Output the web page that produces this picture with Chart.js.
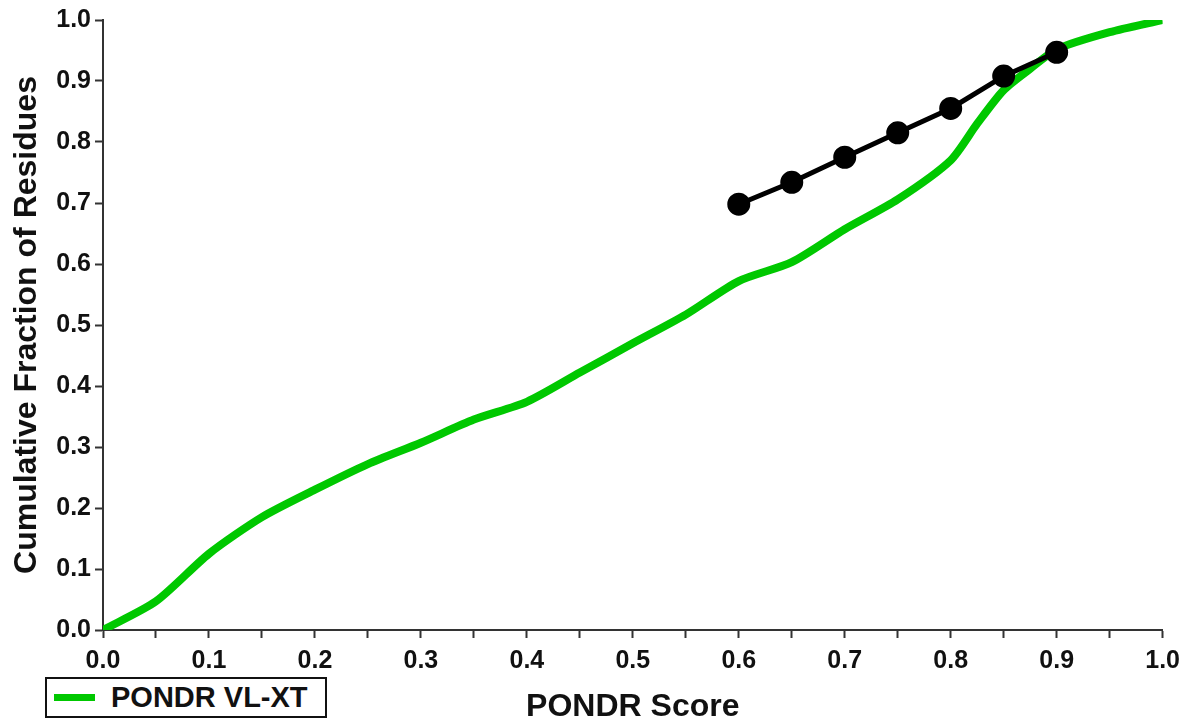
<!DOCTYPE html>
<html lang="en">
<head>
    <meta charset="UTF-8">
    <title>PONDR Score Cumulative Fraction</title>
    <style>
        body {
            margin: 0;
            padding: 0;
            background-color: #ffffff;
            font-family: "Liberation Sans", Arial, sans-serif;
        }

        .wrap {
            position: relative;
            width: 1188px;
            height: 721px;
        }

        /* Legend box in the lower left corner */
        .legend {
            position: absolute;
            left: 45px;
            top: 677px;
            width: 278px;
            height: 37px;
            border: 2px solid #111;
            background: #ffffff;
            display: flex;
            align-items: center;
        }

        .legend .swatch {
            width: 41px;
            height: 7px;
            margin-left: 7px;
            margin-right: 16px;
        }

        .legend .label {
            font-weight: bold;
            font-size: 29px;
            color: #111;
            line-height: 1;
        }
    </style>
</head>
<body>
    <div class="wrap">
        <canvas id="chart" width="1188" height="721"></canvas>
        <div class="legend">
            <div class="swatch" id="legendSwatch"></div>
            <div class="label" id="legendLabel"></div>
        </div>
    </div>

    <script src="https://cdn.jsdelivr.net/npm/chart.js"></script>
    <script>
        // PONDR VL-XT cumulative distribution
        const vlxtScore = [0.0, 0.05, 0.1, 0.15, 0.2, 0.25, 0.3, 0.35, 0.4, 0.45, 0.5, 0.55, 0.6, 0.65, 0.7, 0.75, 0.8, 0.825, 0.85, 0.875, 0.9, 0.95, 1.0];
        const vlxtFraction = [0.0, 0.047, 0.125, 0.185, 0.23, 0.272, 0.307, 0.345, 0.374, 0.422, 0.47, 0.517, 0.572, 0.603, 0.657, 0.706, 0.77, 0.83, 0.885, 0.92, 0.952, 0.98, 1.0];

        // black reference series
        const refScore = [0.6, 0.65, 0.7, 0.75, 0.8, 0.85, 0.9];
        const refFraction = [0.698, 0.734, 0.775, 0.815, 0.855, 0.908, 0.947];

        const xTicks = [0.0, 0.1, 0.2, 0.3, 0.4, 0.5, 0.6, 0.7, 0.8, 0.9, 1.0];
        const yTicks = [0.0, 0.1, 0.2, 0.3, 0.4, 0.5, 0.6, 0.7, 0.8, 0.9, 1.0];

        const green = 'rgb(0, 200, 0)';
        const ink = '#111111';

        function toPoints(xs, ys) {
            return xs.map((x, i) => ({ x: x, y: ys[i] }));
        }

        document.getElementById('legendSwatch').style.background = green;
        document.getElementById('legendLabel').textContent = 'PONDR VL-XT';

        const tickFont = { family: '"Liberation Sans", Arial, sans-serif', size: 25, weight: 'bold' };
        const titleFont = { family: '"Liberation Sans", Arial, sans-serif', size: 32, weight: 'bold' };

        const ctx = document.getElementById('chart').getContext('2d');
        const chart = new Chart(ctx, {
            type: 'line',
            data: {
                datasets: [
                    {
                        label: 'PONDR VL-XT',
                        data: toPoints(vlxtScore, vlxtFraction),
                        borderColor: green,
                        backgroundColor: green,
                        borderWidth: 8,
                        pointRadius: 0,
                        tension: 0.25,
                        order: 2
                    },
                    {
                        label: 'Reference',
                        data: toPoints(refScore, refFraction),
                        borderColor: '#000000',
                        backgroundColor: '#000000',
                        borderWidth: 5,
                        pointRadius: 9,
                        pointHoverRadius: 9,
                        order: 1
                    }
                ]
            },
            options: {
                responsive: false,
                animation: false,
                layout: {
                    padding: { top: 20, right: 25, left: 0, bottom: 0 }
                },
                plugins: {
                    legend: { display: false },
                    tooltip: { enabled: false }
                },
                scales: {
                    x: {
                        type: 'linear',
                        min: 0,
                        max: 1,
                        afterFit: (scale) => { scale.height = 91; },
                        ticks: {
                            stepSize: 0.05,
                            color: ink,
                            font: tickFont,
                            maxRotation: 0,
                            autoSkip: false,
                            padding: 8,
                            callback: (v) => {
                                const hit = xTicks.find(t => Math.abs(t - v) < 1e-6);
                                return hit === undefined ? '' : hit.toFixed(1);
                            }
                        },
                        grid: {
                            drawOnChartArea: false,
                            drawTicks: true,
                            tickLength: 8,
                            tickWidth: 2,
                            color: '#333333'
                        },
                        border: { display: true, color: '#333333', width: 2 },
                        title: {
                            display: true,
                            text: 'PONDR Score',
                            color: ink,
                            font: titleFont,
                            padding: { top: 13, bottom: -5 }
                        }
                    },
                    y: {
                        type: 'linear',
                        min: 0,
                        max: 1,
                        afterFit: (scale) => { scale.width = 103; },
                        afterBuildTicks: (scale) => {
                            scale.ticks = yTicks.map(v => ({ value: v }));
                        },
                        ticks: {
                            color: ink,
                            font: tickFont,
                            padding: 4,
                            callback: (v) => Number(v).toFixed(1)
                        },
                        grid: {
                            drawOnChartArea: false,
                            drawTicks: true,
                            tickLength: 8,
                            tickWidth: 2,
                            color: '#333333'
                        },
                        border: { display: true, color: '#333333', width: 2 },
                        title: {
                            display: true,
                            text: 'Cumulative Fraction of Residues',
                            color: ink,
                            font: titleFont,
                            padding: { top: 8, bottom: 0 }
                        }
                    }
                }
            }
        });
    </script>
</body>
</html>
